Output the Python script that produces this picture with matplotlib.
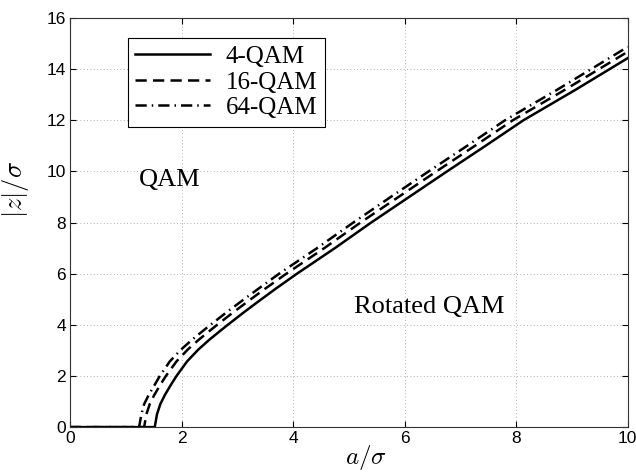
import numpy as np
import matplotlib.pyplot as plt

# ----------------------------
# Datos
# ----------------------------
x_4qam = [0, 1.52, 1.56, 1.62, 1.70, 1.80, 1.91, 2.10, 2.30, 2.50, 2.80, 3.10, 3.40, 3.70, 4.07, 4.75, 5.40, 6.08, 6.76, 7.45, 8.13, 9.07, 10.0]
y_4qam = [0, 0.0, 0.5, 0.9, 1.25, 1.62, 2.0, 2.57, 3.03, 3.42, 3.95, 4.46, 4.95, 5.43, 6.0, 7.0, 8.0, 9.0, 10.0, 11.0, 12.0, 13.2, 14.43]

x_16qam = [0, 1.33, 1.37, 1.43, 1.51, 1.61, 1.72, 1.91, 2.11, 2.31, 2.61, 2.91, 3.21, 3.51, 3.88, 4.56, 5.21, 5.89, 6.57, 7.26, 7.94, 8.88, 10.0]
y_16qam = [0, 0.0, 0.5, 0.9, 1.25, 1.62, 2.0, 2.57, 3.03, 3.42, 3.95, 4.46, 4.95, 5.43, 6.0, 7.0, 8.0, 9.0, 10.0, 11.0, 12.0, 13.2, 14.68]

x_64qam = [0, 1.24, 1.28, 1.33, 1.41, 1.51, 1.61, 1.79, 1.99, 2.19, 2.49, 2.79, 3.09, 3.39, 3.75, 4.43, 5.08, 5.75, 6.43, 7.12, 7.80, 8.74, 10.0]
y_64qam = [0, 0.0, 0.5, 0.9, 1.25, 1.62, 2.0, 2.57, 3.03, 3.42, 3.95, 4.46, 4.95, 5.43, 6.0, 7.0, 8.0, 9.0, 10.0, 11.0, 12.0, 13.2, 14.87]

labels = ['4-QAM', '16-QAM', '64-QAM']
xticks = [0, 2, 4, 6, 8, 10]
yticks = [0, 2, 4, 6, 8, 10, 12, 14, 16]

plt.rcParams['mathtext.fontset'] = 'cm'

fig = plt.figure(figsize=(6.36, 4.73), dpi=100)
ax = fig.add_axes([0.110, 0.097, 0.877, 0.865])

ax.plot(x_4qam, y_4qam, '-', color='black', lw=1.8, label=labels[0])
ax.plot(x_16qam, y_16qam, color='black', lw=1.8, dashes=(4.5, 2.5), label=labels[1])
ax.plot(x_64qam, y_64qam, color='black', lw=1.8, dashes=(4.5, 2, 0.6, 2), label=labels[2])

ax.set_xlim(0, 10)
ax.set_ylim(0, 16)
ax.set_xticks(xticks)
ax.set_yticks(yticks)
ax.tick_params(direction='in', top=True, right=True, length=4, labelsize=12.5, pad=3)
for lab in ax.get_xticklabels() + ax.get_yticklabels():
    lab.set_family('Liberation Sans')

ax.grid(True, linestyle=(0, (1, 3)), color='#999999', linewidth=0.6)
for s in ax.spines.values():
    s.set_color('#333333')
    s.set_linewidth(0.8)

ax.set_xlabel(r'$a/\sigma$', fontsize=18)
ax.set_ylabel(r'$|z|/\sigma$', fontsize=19)
ax.xaxis.set_label_coords(0.53, -0.04)
ax.yaxis.set_label_coords(-0.07, 0.58)

ax.text(1.79, 9.67, 'QAM', fontsize=19, family='Liberation Serif', ha='center', va='center')
ax.text(6.45, 4.7, 'Rotated QAM', fontsize=19, family='Liberation Serif', ha='center', va='center')

leg = ax.legend(loc='upper left', bbox_to_anchor=(0.104, 0.951), fancybox=False,
                prop={'family': 'Liberation Serif', 'size': 18}, handlelength=3.0,
                labelspacing=0.12, borderpad=0.3, handletextpad=0.6, framealpha=1,
                borderaxespad=0)
leg.get_frame().set_edgecolor('black')
leg.get_frame().set_linewidth(0.8)

fig.savefig('out.png', dpi=100)
